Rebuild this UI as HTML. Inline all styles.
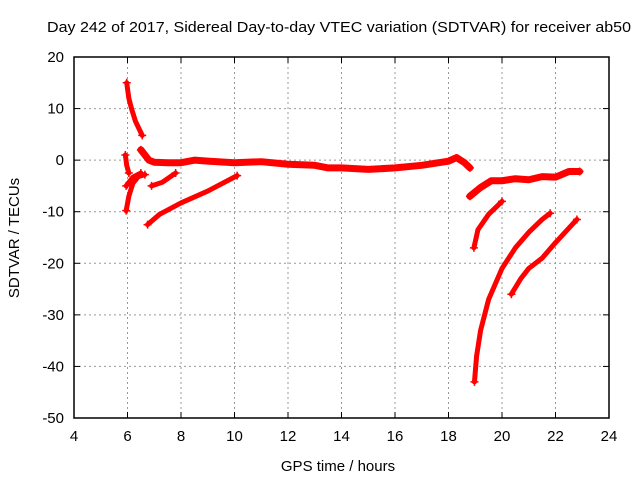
<!DOCTYPE html>
<html><head><meta charset="utf-8"><style>
body{margin:0;background:#fff;}
svg{display:block;font-family:"Liberation Sans",sans-serif;}
</style></head><body>
<svg id="chart" width="640" height="480">
<text x="339" y="32" font-size="15" text-anchor="middle" textLength="584" lengthAdjust="spacingAndGlyphs">Day 242 of 2017, Sidereal Day-to-day VTEC variation (SDTVAR) for receiver ab50</text>
<text x="338" y="471" font-size="15" text-anchor="middle">GPS time / hours</text>
<text transform="translate(19,238) rotate(-90)" font-size="15" text-anchor="middle">SDTVAR / TECUs</text>
<g id="grid"></g><g id="series"></g>
<rect x="74" y="57" width="535" height="361" fill="none" stroke="#000" stroke-width="1.5"/>
</svg>
<script>
const xTicks=[4,6,8,10,12,14,16,18,20,22,24];
const yTicks=[20,10,0,-10,-20,-30,-40,-50];
const seg1=[[5.97,15],[6.05,12],[6.15,10],[6.3,7.5],[6.55,4.8]];
const seg2=[[6.5,2],[6.8,0],[7,-0.4],[7.5,-0.5],[8,-0.5],[8.5,0],[9,-0.2],[10,-0.5],[11,-0.3],[12,-0.8],[13,-1],[13.5,-1.5],[14,-1.5],[15,-1.8],[16,-1.5],[17,-1],[18,-0.2],[18.3,0.5],[18.6,-0.5],[18.8,-1.5]];
const seg3=[[5.92,1],[5.97,-1],[6.05,-2.5]];
const seg4=[[5.95,-9.8],[6.05,-7],[6.2,-4.5],[6.4,-3.2],[6.65,-2.8]];
const seg5=[[5.95,-5],[6.2,-3.3],[6.5,-2.5]];
const seg6=[[6.9,-5],[7.3,-4.3],[7.8,-2.5]];
const seg7=[[6.75,-12.5],[7.2,-10.5],[8,-8.3],[9,-6],[10.1,-3]];
const seg8=[[18.8,-7],[19.2,-5.3],[19.6,-4],[20,-4],[20.5,-3.6],[21,-3.8],[21.5,-3.2],[22,-3.3],[22.5,-2.2],[22.9,-2.2]];
const seg9=[[18.95,-17],[19.1,-13.5],[19.5,-10.5],[20,-8]];
const seg10=[[18.97,-43],[19.05,-38],[19.2,-33],[19.5,-27],[20,-21],[20.5,-17],[21,-14],[21.5,-11.5],[21.8,-10.3]];
const seg11=[[20.35,-26],[20.7,-23],[21,-21],[21.5,-19],[22,-16],[22.8,-11.5]];
const allSeries=[seg1,seg2,seg3,seg4,seg5,seg6,seg7,seg8,seg9,seg10,seg11];
const widths=[5,7,5,5,5,5,5,7,5,5,5];
const X=v=>74+(v-4)*535/20, Y=v=>57+(20-v)*361/70;
const ns="http://www.w3.org/2000/svg";
const g=document.getElementById('grid'), s=document.getElementById('series');
function mk(tag,attrs,parent){const e=document.createElementNS(ns,tag);for(const k in attrs)e.setAttribute(k,attrs[k]);parent.appendChild(e);return e;}
xTicks.forEach(t=>{const x=X(t);
 if(t>4&&t<24){const l=mk('line',{x1:x,x2:x,y1:57,y2:418,stroke:'#999','stroke-dasharray':'2,3'},g);
 
 }
 mk('line',{x1:x,x2:x,y1:418,y2:412,stroke:'#000'},g);mk('line',{x1:x,x2:x,y1:57,y2:63,stroke:'#000'},g);
 const tx=mk('text',{x:x,y:441,'font-size':15,'text-anchor':'middle'},g);tx.textContent=t;
 
 });
yTicks.forEach(t=>{const y=Y(t);
 if(t<20&&t>-50){const l=mk('line',{x1:74,x2:609,y1:y,y2:y,stroke:'#999','stroke-dasharray':'2,3'},g);
 
 }
 mk('line',{x1:74,x2:80,y1:y,y2:y,stroke:'#000'},g);mk('line',{x1:609,x2:603,y1:y,y2:y,stroke:'#000'},g);
 const tx=mk('text',{x:64,y:y+5,'font-size':15,'text-anchor':'end'},g);tx.textContent=t;
 
 });
allSeries.forEach((seg,i)=>{
 const p=mk('polyline',{points:seg.map(d=>X(d[0])+','+Y(d[1])).join(' '),fill:'none',stroke:'#f00','stroke-width':widths[i],'stroke-linejoin':'round','stroke-linecap':'round'},s);
 
 
 [seg[0],seg[seg.length-1]].forEach(d=>{const x=X(d[0]),y=Y(d[1]);
  const m=mk('path',{d:`M${x-4},${y}H${x+4}M${x},${y-4}V${y+4}`,stroke:'#f00','stroke-width':1.5},s);
  
  });
});
</script>
</body></html>
